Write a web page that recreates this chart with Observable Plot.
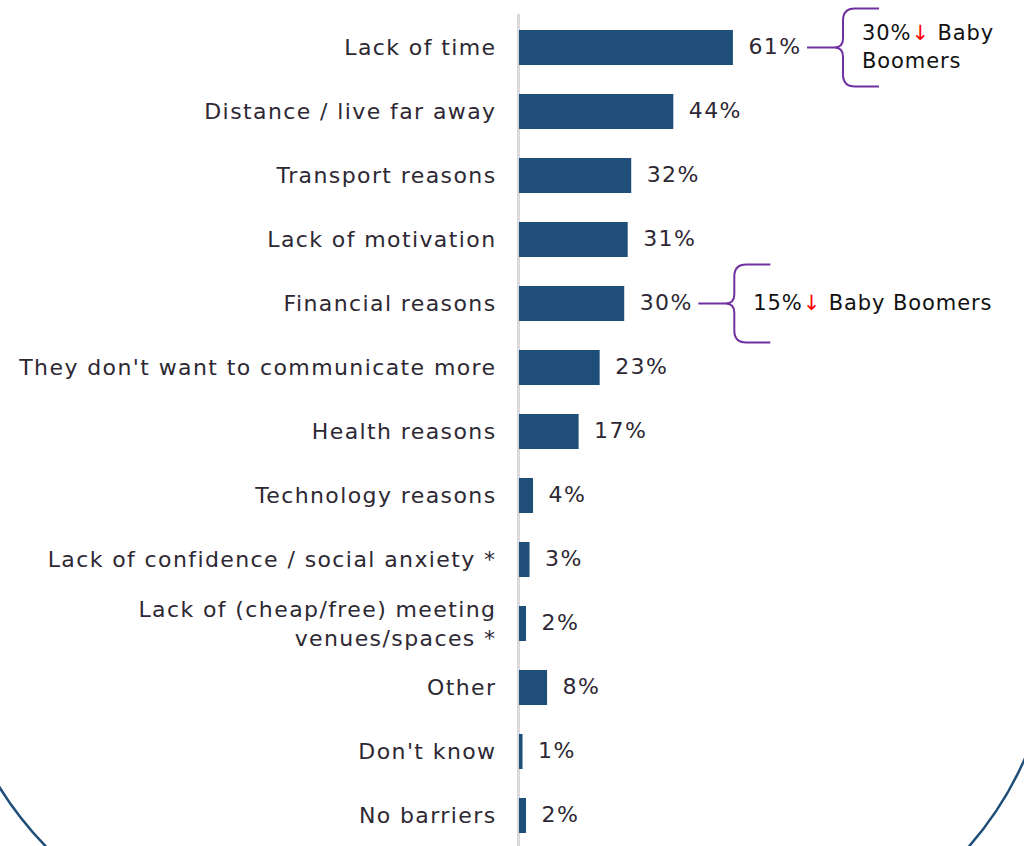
<!DOCTYPE html>
<html>
<head>
<meta charset="utf-8">
<script src="https://cdn.jsdelivr.net/npm/d3@7"></script>
<script src="https://cdn.jsdelivr.net/npm/@observablehq/plot@0.6"></script>
<style>
  html, body { margin: 0; padding: 0; background: #fff; }
  #wrap { position: relative; width: 1024px; height: 846px; overflow: hidden; }
  #deco { position: absolute; left: 0; top: 0; pointer-events: none; }
</style>
</head>
<body>
<div id="wrap"></div>
<script>
const categories = [
  "Lack of time",
  "Distance / live far away",
  "Transport reasons",
  "Lack of motivation",
  "Financial reasons",
  "They don't want to communicate more",
  "Health reasons",
  "Technology reasons",
  "Lack of confidence / social anxiety *",
  "Lack of (cheap/free) meeting\nvenues/spaces *",
  "Other",
  "Don't know",
  "No barriers"
];
const values = [61, 44, 32, 31, 30, 23, 17, 4, 3, 2, 8, 1, 2];
const annotationCats = ["Lack of time", "Financial reasons"];
const annotationPct = ["30%", "15%"];
const annotationLines = [["Baby", "Boomers"], ["Baby Boomers"]];

const data = categories.map((c, i) => ({label: c, value: values[i]}));

const FONT = "DejaVu Sans, sans-serif";
const BAR = "#1f4e79";
const TXT = "#2d2833";
const LS = 1.4;

const plot = Plot.plot({
  width: 1024,
  height: 846,
  marginLeft: 519,
  marginRight: 0,
  marginTop: 14,
  marginBottom: 0,
  style: {fontFamily: FONT, fontSize: "22px", color: TXT, background: "transparent", letterSpacing: LS + "px"},
  x: {domain: [0, 144], axis: null},
  y: {domain: categories, range: [13, 849], paddingInner: 0.455, paddingOuter: 0.2275, axis: null},
  marks: [
    Plot.ruleX([0], {stroke: "#d9d9d9", strokeWidth: 3, dx: -1}),
    Plot.barX(data, {x: "value", y: "label", fill: BAR}),
    Plot.text(data, {x: 0, y: "label", text: "label", textAnchor: "end", dx: -23, dy: -2,
      fill: TXT, fontSize: 22, lineHeight: 1.32}),
    Plot.text(data, {x: "value", y: "label", text: d => d.value + "%", textAnchor: "start",
      dx: 15, dy: -1, fill: TXT, fontSize: 22})
  ]
});
document.getElementById("wrap").appendChild(plot);

// annotations (braces) positioned using the plot's scales
const xs = plot.scale("x"), ys = plot.scale("y");
const ctx = document.createElement("canvas").getContext("2d");
ctx.font = "22px " + FONT;
const svg = d3.select(plot);
const g = svg.append("g").attr("text-anchor", "start");
annotationCats.forEach((cat, i) => {
  const d = data.find(r => r.label === cat);
  const cy = ys.apply(cat) + ys.bandwidth / 2;
  const s = d.value + "%";
  const x0 = xs.apply(d.value) + 15 + ctx.measureText(s).width + s.length * LS + 6;
  const tip = x0 + 27, bx = x0 + 36, h = 39;
  const path = `M${x0},${cy} L${tip},${cy}
    M${bx + 36},${cy - h} L${bx + 12},${cy - h} Q${bx},${cy - h} ${bx},${cy - h + 12}
    L${bx},${cy - 9} Q${bx},${cy} ${tip},${cy} Q${bx},${cy} ${bx},${cy + 9}
    L${bx},${cy + h - 12} Q${bx},${cy + h} ${bx + 12},${cy + h} L${bx + 36},${cy + h}`;
  g.append("path").attr("d", path).attr("fill", "none").attr("stroke", "#7030a0")
    .attr("stroke-width", 2);
  const lines = annotationLines[i];
  const lh = 28;
  const t = g.append("text").attr("font-family", FONT)
    .attr("font-size", 21).attr("fill", "#111").style("letter-spacing", "0.9px");
  lines.forEach((ln, j) => {
    const yy = cy - (lines.length - 1) * lh / 2 + j * lh - 1;
    const ts = t.append("tspan").attr("x", bx + 19).attr("y", yy).attr("dy", "0.35em");
    if (j === 0) {
      ts.text(annotationPct[i]);
      t.append("tspan").attr("fill", "#ff0000").text("\u2193");
      t.append("tspan").text(" " + ln);
    } else {
      ts.text(ln);
    }
  });
});

// decorative frame arcs at bottom corners
const deco = d3.select("#wrap").append("svg").attr("id", "deco")
  .attr("width", 1024).attr("height", 846);
const defs = deco.append("defs");
defs.append("clipPath").attr("id", "clipL").append("rect")
  .attr("x", 0).attr("y", 700).attr("width", 150).attr("height", 146);
defs.append("clipPath").attr("id", "clipR").append("rect")
  .attr("x", 870).attr("y", 700).attr("width", 154).attr("height", 146);
deco.append("circle").attr("cx", 300).attr("cy", 600).attr("r", 354)
  .attr("fill", "none").attr("stroke", BAR).attr("stroke-width", 2.5)
  .attr("clip-path", "url(#clipL)");
deco.append("circle").attr("cx", 710).attr("cy", 620).attr("r", 344)
  .attr("fill", "none").attr("stroke", BAR).attr("stroke-width", 2.5)
  .attr("clip-path", "url(#clipR)");
</script>
</body>
</html>
